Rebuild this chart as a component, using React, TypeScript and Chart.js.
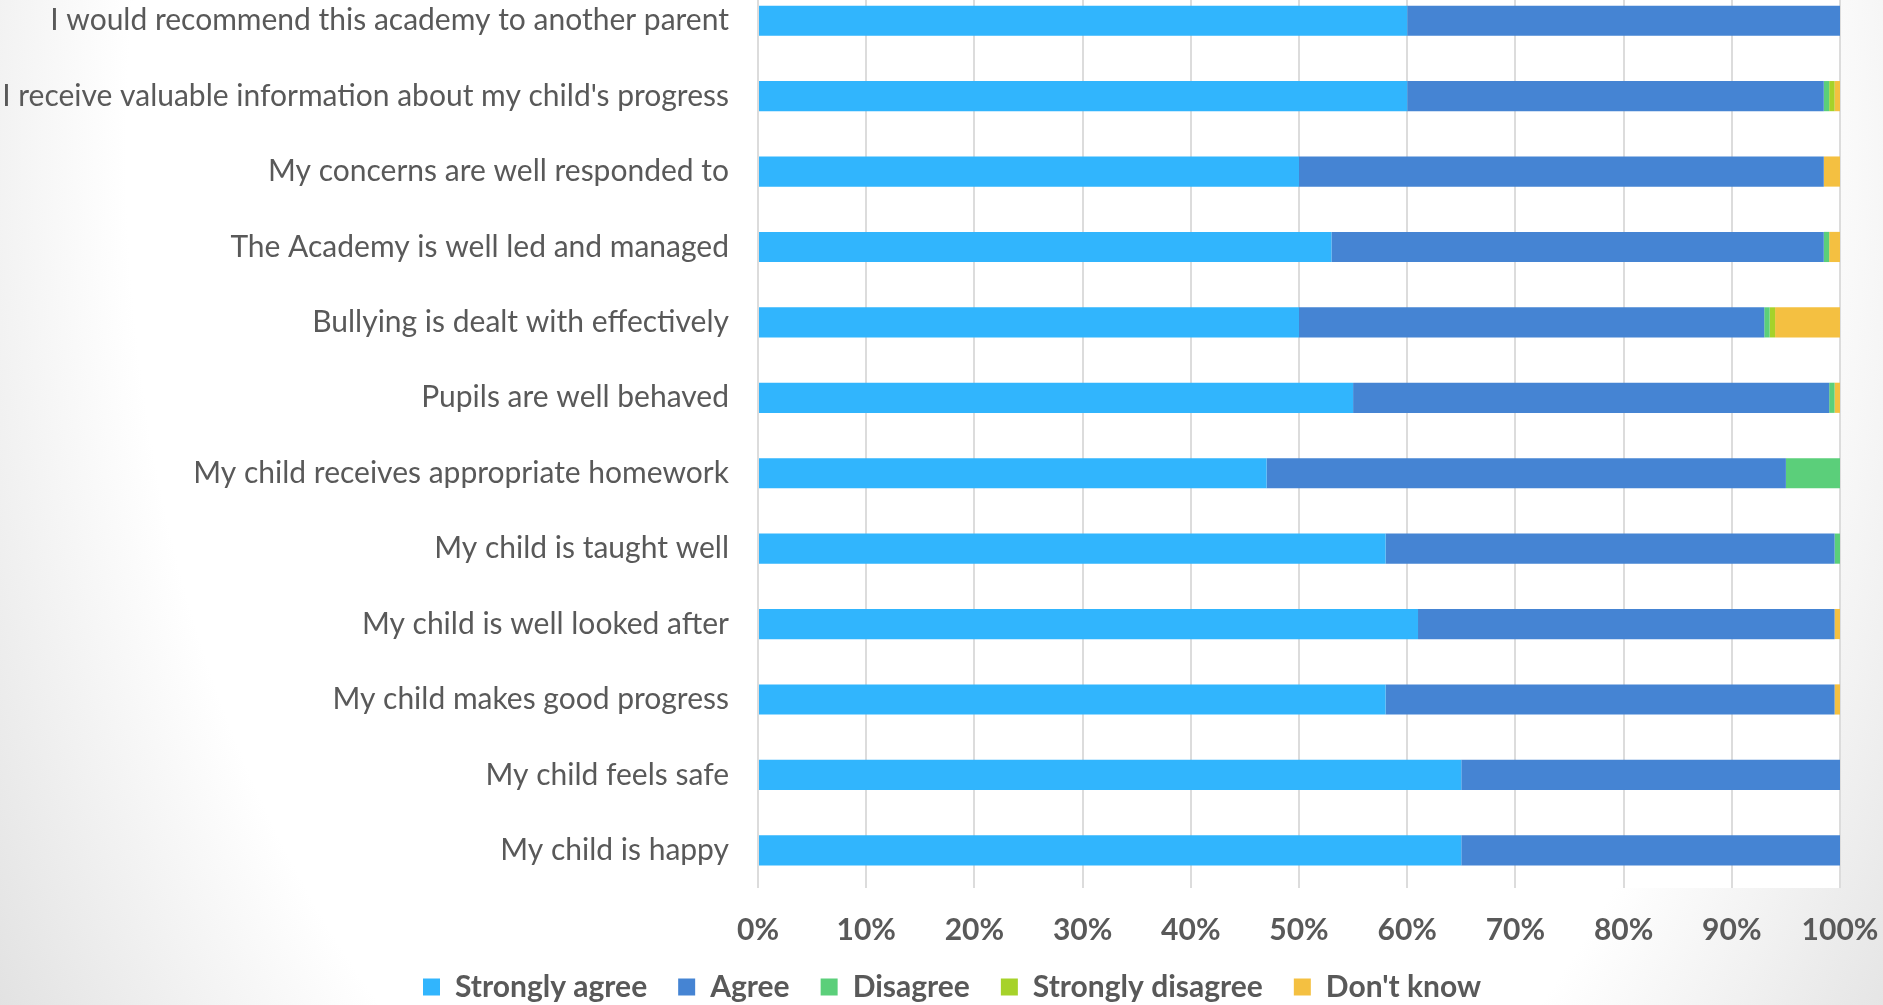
import { useEffect, useRef } from "react";
import { Chart, registerables } from "chart.js";

Chart.register(...registerables);

const categories = [
  "I would recommend this academy to another parent",
  "I receive valuable information about my child's progress",
  "My concerns are well responded to",
  "The Academy is well led and managed",
  "Bullying is dealt with effectively",
  "Pupils are well behaved",
  "My child receives appropriate homework",
  "My child is taught well",
  "My child is well looked after",
  "My child makes good progress",
  "My child feels safe",
  "My child is happy",
];

const stronglyAgree = [60, 60, 50, 53, 50, 55, 47, 58, 61, 58, 65, 65];
const agree = [40, 38.5, 48.5, 45.5, 43, 44, 48, 41.5, 38.5, 41.5, 35, 35];
const disagree = [0, 0.5, 0, 0.5, 0.5, 0.5, 5, 0.5, 0, 0, 0, 0];
const stronglyDisagree = [0, 0.5, 0, 0, 0.5, 0, 0, 0, 0, 0, 0, 0];
const dontKnow = [0, 0.5, 1.5, 1, 6, 0.5, 0, 0, 0.5, 0.5, 0, 0];

const seriesNames = ["Strongly agree", "Agree", "Disagree", "Strongly disagree", "Don't know"];
const seriesColors = ["#31B5FD", "#4584D3", "#5BCF7A", "#A6D22A", "#F4C041"];

const xTickValues = [0, 10, 20, 30, 40, 50, 60, 70, 80, 90, 100];

const TEXT = "#595959";

const plotBackground = {
  id: "plotBackground",
  afterLayout(chart: any) {
    const l = chart.legend;
    if (l) {
      l.left += 32;
      l.right += 32;
    }
  },
  beforeDraw(chart: any) {
    const { ctx, chartArea } = chart;
    ctx.save();
    ctx.fillStyle = "#ffffff";
    ctx.fillRect(chartArea.left, chartArea.top, chartArea.right - chartArea.left, chartArea.bottom - chartArea.top);
    ctx.restore();
  },
};

const zeroPadding = (scale: any) => {
  scale.paddingTop = 0;
  scale.paddingBottom = 0;
  scale.paddingLeft = 0;
  scale.paddingRight = 0;
};

export default function App() {
  const ref = useRef<HTMLCanvasElement>(null);

  useEffect(() => {
    const canvas = ref.current!;
    const series = [stronglyAgree, agree, disagree, stronglyDisagree, dontKnow];
    const chart = new Chart(canvas, {
      type: "bar",
      data: {
        labels: categories,
        datasets: series.map((d, i) => ({
          label: seriesNames[i],
          data: d,
          backgroundColor: seriesColors[i],
          borderWidth: 0,
          barPercentage: 0.4,
          categoryPercentage: 1,
        })),
      },
      options: {
        indexAxis: "y",
        animation: false,
        responsive: false,
        devicePixelRatio: 1,
        layout: { padding: { left: 0, right: 43, top: 0, bottom: 0 } },
        scales: {
          x: {
            stacked: true,
            min: 0,
            max: 100,
            afterBuildTicks: (scale: any) => {
              scale.ticks = xTickValues.map((v) => ({ value: v }));
            },
            afterFit: (scale: any) => {
              scale.height = 53;
              zeroPadding(scale);
            },
            grid: { color: "#dcdcdc", lineWidth: 2, drawTicks: false },
            border: { display: false },
            ticks: {
              padding: 24,
              maxRotation: 0,
              autoSkip: false,
              color: TEXT,
              font: { family: "Lato", size: 30, weight: "bold" },
              callback: (v: any) => v + "%",
            },
          },
          y: {
            stacked: true,
            afterFit: (scale: any) => {
              scale.width = 758;
              zeroPadding(scale);
            },
            grid: { display: false },
            border: { display: false },
            ticks: {
              padding: 21,
              autoSkip: false,
              color: TEXT,
              font: { family: "Lato", size: 30 },
            },
          },
        },
        plugins: {
          legend: {
            position: "bottom",
            labels: {
              boxWidth: 17,
              boxHeight: 17,
              padding: 31,
              color: TEXT,
              font: { family: "Lato", size: 30, weight: "bold" },
            },
          },
          tooltip: { enabled: false },
        },
      },
      plugins: [plotBackground],
    } as any);
    return () => chart.destroy();
  }, []);

  return (
    <div
      style={{
        position: "absolute",
        left: 0,
        top: 0,
        width: 1883,
        height: 1005,
        overflow: "hidden",
        background:
          "radial-gradient(ellipse 906px 1293px at 960px 150px, #ffffff 92%, #e2e2e2 125%)",
      }}
    >
      <canvas
        ref={ref}
        width={1883}
        height={1029}
        style={{ position: "absolute", left: 0, top: -17, width: 1883, height: 1029 }}
      />
    </div>
  );
}
